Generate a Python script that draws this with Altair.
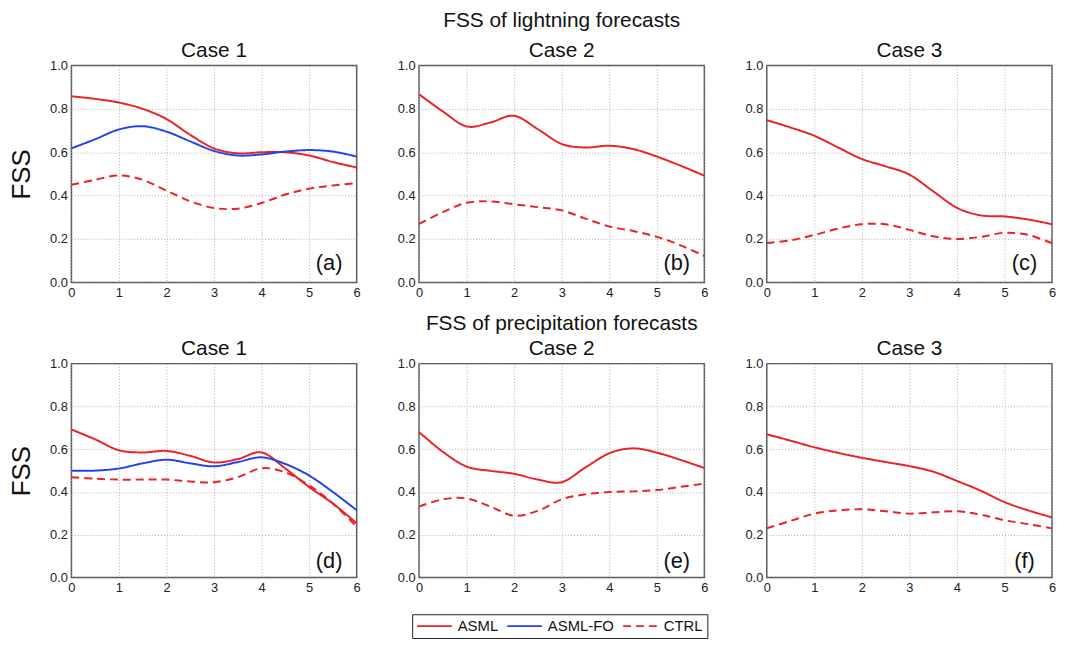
import altair as alt
import pandas as pd

hours = [0, 0.5, 1, 1.5, 2, 2.5, 3, 3.5, 4, 4.5, 5, 5.5, 6]
series_names = ["ASML", "ASML-FO", "CTRL"]
series_colors = ["#EA2228", "#2343EA", "#EA2228"]
series_dashes = [[1, 0], [1, 0], [8, 5]]

# Lightning forecasts
a_asml = [0.858, 0.846, 0.829, 0.800, 0.753, 0.680, 0.618, 0.595, 0.600, 0.600, 0.585, 0.555, 0.530]
a_fo = [0.618, 0.660, 0.705, 0.720, 0.695, 0.650, 0.606, 0.585, 0.590, 0.603, 0.610, 0.603, 0.580]
a_ctrl = [0.450, 0.473, 0.493, 0.473, 0.423, 0.374, 0.343, 0.340, 0.366, 0.405, 0.432, 0.447, 0.458]
b_asml = [0.867, 0.788, 0.719, 0.737, 0.768, 0.706, 0.638, 0.622, 0.630, 0.615, 0.580, 0.538, 0.492]
b_ctrl = [0.270, 0.324, 0.367, 0.373, 0.360, 0.347, 0.332, 0.294, 0.258, 0.237, 0.210, 0.171, 0.122]
c_asml = [0.748, 0.714, 0.676, 0.622, 0.569, 0.535, 0.497, 0.420, 0.344, 0.309, 0.304, 0.290, 0.268]
c_ctrl = [0.182, 0.194, 0.219, 0.248, 0.268, 0.268, 0.242, 0.213, 0.200, 0.210, 0.229, 0.219, 0.180]

# Precipitation forecasts
d_asml = [0.692, 0.646, 0.595, 0.585, 0.592, 0.569, 0.538, 0.554, 0.585, 0.510, 0.423, 0.346, 0.254]
d_fo = [0.500, 0.500, 0.510, 0.534, 0.551, 0.534, 0.520, 0.540, 0.562, 0.531, 0.477, 0.400, 0.315]
d_ctrl = [0.469, 0.462, 0.458, 0.458, 0.458, 0.449, 0.446, 0.469, 0.511, 0.492, 0.431, 0.346, 0.238]
e_asml = [0.680, 0.588, 0.519, 0.499, 0.485, 0.458, 0.446, 0.515, 0.581, 0.604, 0.584, 0.550, 0.512]
e_ctrl = [0.332, 0.366, 0.370, 0.332, 0.289, 0.312, 0.366, 0.389, 0.400, 0.403, 0.409, 0.424, 0.439]
f_asml = [0.670, 0.640, 0.609, 0.583, 0.560, 0.540, 0.521, 0.495, 0.452, 0.406, 0.353, 0.314, 0.281]
f_ctrl = [0.230, 0.265, 0.299, 0.314, 0.319, 0.310, 0.299, 0.305, 0.310, 0.294, 0.268, 0.250, 0.230]

y_values = [round(i * 0.1, 1) for i in range(11)]
x_values = [0, 1, 2, 3, 4, 5, 6]

FONT = "Liberation Sans"
PW = 288


def make_df(series):
    rows = []
    for name, vals in series.items():
        for h, v in zip(hours, vals):
            rows.append({"hour": h, "fss": v, "series": name})
    return pd.DataFrame(rows)


def panel(series, label, title, height, show_ytitle, label_y, supertitle=None, sub_pad=0):
    df = make_df(series)
    x = alt.X("hour:Q", scale=alt.Scale(domain=[0, 6], nice=False),
              axis=alt.Axis(values=x_values, title=None, labelFlush=False,
                            format="d"))
    yaxis = dict(values=y_values, labelOverlap=False, labelFlush=False,
                 labelExpr="(round(datum.value*10) % 2 == 0) ? format(datum.value, '.1f') : ''")
    if show_ytitle:
        y = alt.Y("fss:Q", scale=alt.Scale(domain=[0, 1], nice=False),
                  axis=alt.Axis(title="FSS", **yaxis))
    else:
        y = alt.Y("fss:Q", scale=alt.Scale(domain=[0, 1], nice=False),
                  axis=alt.Axis(title=None, **yaxis))
    lines = alt.Chart(df).mark_line(strokeWidth=2, interpolate="cardinal").encode(
        x=x, y=y,
        color=alt.Color("series:N", scale=alt.Scale(domain=series_names, range=series_colors),
                        legend=alt.Legend(title=None)),
        strokeDash=alt.StrokeDash("series:N", scale=alt.Scale(domain=series_names, range=series_dashes),
                                  legend=alt.Legend(title=None)),
        detail="series:N",
    )
    lab_df = pd.DataFrame({"hour": [5.42], "fss": [label_y], "text": [label]})
    txt = alt.Chart(lab_df).mark_text(font=FONT, fontSize=22, color="#111",
                                      align="center", baseline="middle").encode(
        x="hour:Q", y="fss:Q", text="text:N")
    if supertitle:
        tp = alt.TitleParams(text=supertitle, subtitle=title, subtitlePadding=sub_pad)
    else:
        tp = alt.TitleParams(text=title)
    return alt.layer(lines, txt).properties(width=PW, height=height, title=tp)


row1 = alt.hconcat(
    panel({"ASML": a_asml, "ASML-FO": a_fo, "CTRL": a_ctrl}, "(a)", "Case 1", 219, True, 0.09),
    panel({"ASML": b_asml, "CTRL": b_ctrl}, "(b)", "Case 2", 219, False, 0.09,
          supertitle="FSS of lightning forecasts", sub_pad=9),
    panel({"ASML": c_asml, "CTRL": c_ctrl}, "(c)", "Case 3", 219, False, 0.09),
    spacing=35,
)
row2 = alt.hconcat(
    panel({"ASML": d_asml, "ASML-FO": d_fo, "CTRL": d_ctrl}, "(d)", "Case 1", 216, True, 0.075),
    panel({"ASML": e_asml, "CTRL": e_ctrl}, "(e)", "Case 2", 216, False, 0.075,
          supertitle="FSS of precipitation forecasts", sub_pad=4),
    panel({"ASML": f_asml, "CTRL": f_ctrl}, "(f)", "Case 3", 216, False, 0.075),
    spacing=35,
)

chart = alt.vconcat(row1, row2, spacing=12).properties(
    padding={"left": 0, "top": -2, "right": 0, "bottom": 0}
).configure(
    font=FONT
).configure_view(
    stroke="#555", strokeWidth=1.5
).configure_axis(
    labelFont=FONT, labelFontSize=13, labelColor="#222",
    ticks=False, domain=False, labelPadding=4,
    grid=True, gridColor="#b0b0b0", gridDash=[1, 2], gridWidth=1,
    titleFont=FONT, titleFontSize=26, titleFontWeight="normal", titleColor="#111",
    titlePadding=15,
).configure_title(
    font=FONT, fontSize=21, fontWeight="normal", color="#111", anchor="middle", offset=-1,
    subtitleFont=FONT, subtitleFontSize=21, subtitleFontWeight="normal", subtitleColor="#111",
).configure_legend(
    orient="none", legendX=344, legendY=554, direction="horizontal",
    strokeColor="#222", strokeWidth=1, padding=4, fillColor="white",
    symbolType="M-1,0H4", symbolSize=196, symbolStrokeWidth=2,
    labelFont=FONT, labelFontSize=15, labelColor="#111",
    columnPadding=5, labelOffset=26,
)

chart.save("out.html", embed_options={"renderer": "svg", "actions": False})
